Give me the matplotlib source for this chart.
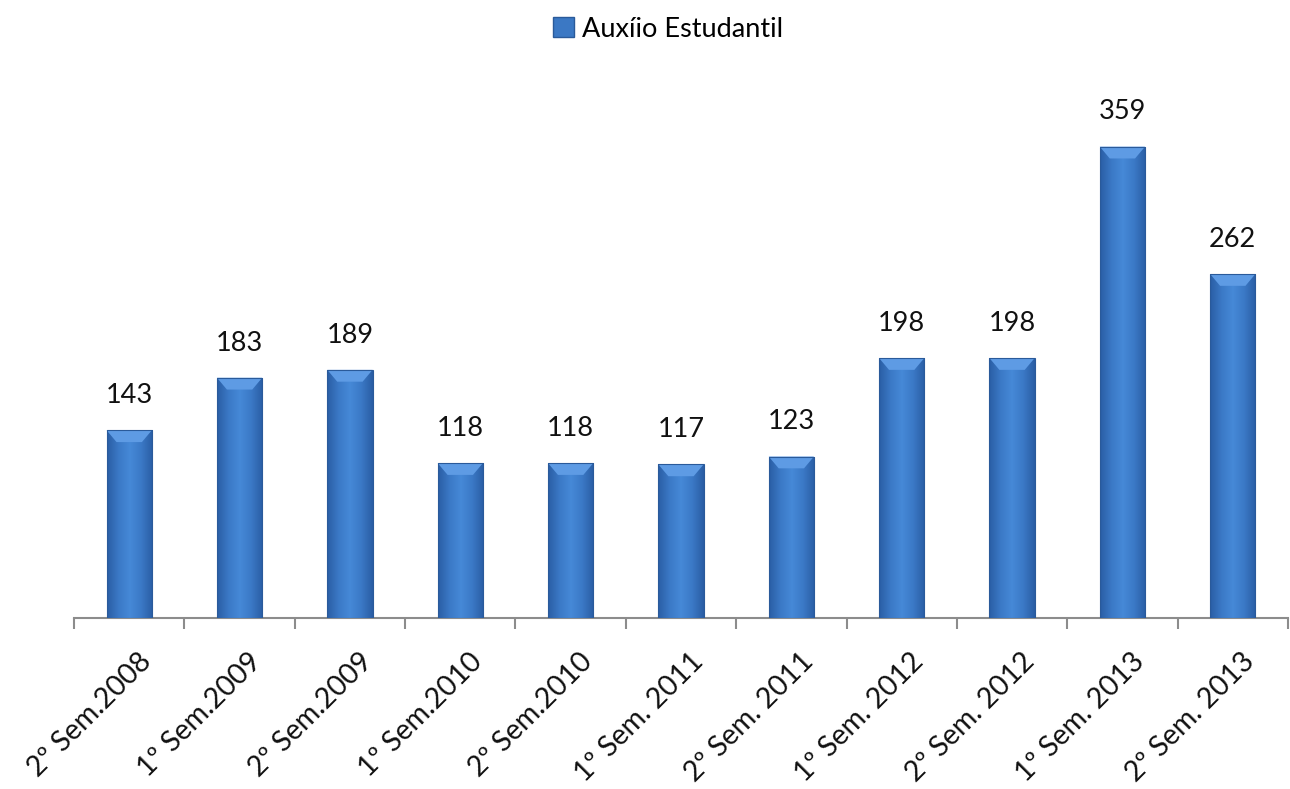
import matplotlib.pyplot as plt
import numpy as np
from matplotlib.colors import LinearSegmentedColormap
from matplotlib.patches import Rectangle, Polygon

plt.rcParams['font.family'] = ['Lato', 'DejaVu Sans']

categories = ['2º Sem.2008', '1º Sem.2009', '2º Sem.2009', '1º Sem.2010',
              '2º Sem.2010', '1º Sem. 2011', '2º Sem. 2011', '1º Sem. 2012',
              '2º Sem. 2012', '1º Sem. 2013', '2º Sem. 2013']
values = [143, 183, 189, 118, 118, 117, 123, 198, 198, 359, 262]
series_name = 'Auxíio Estudantil'

fig = plt.figure(figsize=(12.9, 7.89), dpi=100)
ax = fig.add_axes([0.0574, 0.2167, 0.941, 0.669])

x = np.arange(len(values))
width = 0.41
bars = ax.bar(x, values, width=width, color='#3b78c4', label=series_name, zorder=2)

# bevelled look: horizontal gradient clipped to each bar, light facet at top
cmap = LinearSegmentedColormap.from_list(
    'bev', ['#2a5ea5', '#3b79c6', '#4689d7', '#3b79c6', '#2a5ea5'])
grad = np.linspace(0, 1, 64).reshape(1, -1)
for b, v in zip(bars, values):
    x0, w = b.get_x(), b.get_width()
    im = ax.imshow(grad, cmap=cmap, aspect='auto',
                   extent=(x0, x0 + w, 0, v), zorder=3)
    im.set_clip_path(b)
    top = Polygon([(x0, v), (x0 + w, v), (x0 + w * 0.78, v - 9),
                   (x0 + w * 0.22, v - 9)], closed=True,
                  facecolor='#5e9be4', edgecolor='none', zorder=4)
    ax.add_patch(top)
    ax.add_patch(Rectangle((x0, 0), w, v, fill=False, edgecolor='#2a5a9a',
                           linewidth=0.8, zorder=5))
    ax.annotate(str(v), (x0 + w / 2, v), xytext=(0, 16),
                textcoords='offset points', ha='center', va='bottom',
                fontsize=19.5, color='#111111')

ax.set_xlim(-0.5, len(values) - 0.5)
ax.set_ylim(0, 402)
ax.set_yticks([])
for s in ['top', 'right', 'left']:
    ax.spines[s].set_visible(False)
ax.spines['bottom'].set_color('#8c8c8c')
ax.spines['bottom'].set_linewidth(1.5)

ax.set_xticks(x + 0.08)
ax.set_xticklabels(categories, rotation=45, ha='right', va='top',
                   rotation_mode='anchor', fontsize=20.5, color='#111111')
ax.tick_params(axis='x', which='major', length=0, pad=22)
ax.set_xticks(np.arange(len(values) + 1) - 0.5, minor=True)
ax.tick_params(axis='x', which='minor', length=8, width=1.5, color='#8c8c8c')

leg = fig.legend(handles=[Rectangle((0, 0), 1, 1, facecolor='#3b78c4',
                                    edgecolor='#2a5a9a')],
                 labels=[series_name], loc='center', bbox_to_anchor=(0.518, 0.963),
                 frameon=False, fontsize=19.5, handlelength=0.75, handleheight=0.75,
                 handletextpad=0.3)

plt.savefig('out.png', dpi=100)
